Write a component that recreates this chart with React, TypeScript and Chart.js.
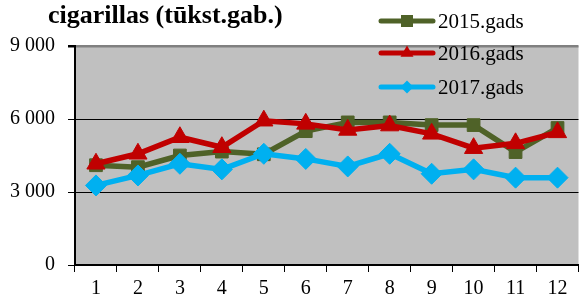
import React, { useEffect, useRef } from "react";
import { Chart, registerables } from "chart.js";

Chart.register(...registerables);

const categories = ["1", "2", "3", "4", "5", "6", "7", "8", "9", "10", "11", "12"];
const series2015 = [4100, 4020, 4500, 4660, 4550, 5500, 5860, 5860, 5750, 5750, 4640, 5630];
const series2016 = [4160, 4570, 5250, 4840, 5930, 5800, 5550, 5730, 5390, 4800, 5000, 5450];
const series2017 = [3270, 3680, 4160, 3930, 4570, 4360, 4050, 4570, 3750, 3930, 3590, 3590];
const yTickValues = [0, 3000, 6000, 9000];
const seriesNames = ["2015.gads", "2016.gads", "2017.gads"];
const titleText = "cigarillas (tūkst.gab.)";

const FONT = "'Liberation Serif', 'Times New Roman', serif";
const GREEN = "#4F6228";
const RED = "#C00000";
const BLUE = "#00B0F0";

function fmt(v: number) {
  return String(v).replace(/\B(?=(\d{3})+(?!\d))/g, " ");
}

function drawPoint(ctx: CanvasRenderingContext2D, style: string, r: number, x: number, y: number) {
  ctx.beginPath();
  if (style === "rect") {
    const s = Math.SQRT1_2 * r;
    ctx.rect(x - s, y - s, 2 * s, 2 * s);
  } else if (style === "triangle") {
    ctx.moveTo(x, y - r);
    ctx.lineTo(x + r * Math.sin((Math.PI * 2) / 3), y - r * Math.cos((Math.PI * 2) / 3));
    ctx.lineTo(x + r * Math.sin((Math.PI * 4) / 3), y - r * Math.cos((Math.PI * 4) / 3));
    ctx.closePath();
  } else {
    ctx.moveTo(x, y - r);
    ctx.lineTo(x + r, y);
    ctx.lineTo(x, y + r);
    ctx.lineTo(x - r, y);
    ctx.closePath();
  }
  ctx.fill();
}

export default function App() {
  const ref = useRef<HTMLCanvasElement | null>(null);
  useEffect(() => {
    document.body.style.margin = "0";
    const canvas = ref.current!;
    const bgPlugin = {
      id: "bg",
      beforeDraw(chart: any) {
        const { ctx, chartArea } = chart;
        ctx.save();
        ctx.fillStyle = "#ffffff";
        ctx.fillRect(0, 0, chart.width, chart.height);
        ctx.fillStyle = "#C0C0C0";
        ctx.fillRect(chartArea.left, chartArea.top, chartArea.right - chartArea.left, chartArea.bottom - chartArea.top);
        ctx.restore();
      },
    };
    const overlay = {
      id: "overlay",
      afterDraw(chart: any) {
        const ctx = chart.ctx;
        ctx.save();
        ctx.fillStyle = "#000";
        ctx.font = `bold 26px ${FONT}`;
        ctx.textBaseline = "alphabetic";
        ctx.textAlign = "left";
        ctx.fillText(titleText, 48, 23);
        const items = [
          { y: 21, color: GREEN, style: "rect", r: 8.5 },
          { y: 53, color: RED, style: "triangle", r: 7.5 },
          { y: 87, color: BLUE, style: "rectRot", r: 6.5 },
        ];
        items.forEach((it, i) => {
          ctx.strokeStyle = it.color;
          ctx.lineWidth = 5;
          ctx.lineCap = "round";
          ctx.beginPath();
          ctx.moveTo(381, it.y);
          ctx.lineTo(433, it.y);
          ctx.stroke();
          ctx.fillStyle = it.color;
          drawPoint(ctx, it.style, it.r, 407, it.y);
          ctx.fillStyle = "#000";
          ctx.font = `21px ${FONT}`;
          ctx.textBaseline = "middle";
          ctx.fillText(seriesNames[i], 438, it.y + 1);
        });
        ctx.restore();
      },
    };
    const mk = (label: string, data: number[], color: string, style: string, r: number, order: number) => ({
      label,
      data,
      borderColor: color,
      backgroundColor: color,
      borderWidth: 5.5,
      pointStyle: style,
      pointRadius: r,
      pointBorderWidth: 1,
      pointBackgroundColor: color,
      pointBorderColor: color,
      tension: 0,
      order,
    });
    const chart = new Chart(canvas, {
      type: "line",
      data: {
        labels: categories,
        datasets: [
          mk(seriesNames[0], series2015, GREEN, "rect", 9, 2),
          mk(seriesNames[1], series2016, RED, "triangle", 10.5, 1),
          mk(seriesNames[2], series2017, BLUE, "rectRot", 10.5, 0),
        ] as any,
      },
      options: {
        animation: false,
        responsive: false,
        maintainAspectRatio: false,
        layout: { padding: { top: 46, right: 5, left: 0, bottom: 0 } },
        plugins: { legend: { display: false }, title: { display: false }, tooltip: { enabled: false } },
        scales: {
          x: {
            type: "category",
            offset: true,
            afterFit(scale: any) {
              scale.height = 32;
              scale.paddingLeft = 0;
              scale.paddingRight = 0;
            },
            grid: {
              offset: true,
              drawOnChartArea: false,
              drawTicks: true,
              tickLength: 7,
              color: "#000",
            },
            border: { color: "#000", width: 2 },
            ticks: {
              color: "#000",
              font: { family: FONT, size: 20 },
              padding: 5,
              maxRotation: 0,
              autoSkip: false,
            },
          },
          y: {
            min: 0,
            max: 9000,
            afterFit(scale: any) {
              scale.width = 75;
            },
            afterBuildTicks(scale: any) {
              scale.ticks = yTickValues.map((v) => ({ value: v }));
            },
            grid: {
              color: (c: any) => (c.tick && c.tick.value === 9000 ? "#808080" : "#000"),
              lineWidth: (c: any) => (c.tick && c.tick.value === 9000 ? 2.5 : 1),
              tickColor: "#000",
              tickLength: 7,
            },
            border: { color: "#000", width: 2 },
            ticks: {
              color: "#000",
              font: { family: FONT, size: 20 },
              padding: 13,
              callback: (v: any) => fmt(Number(v)),
            },
          },
        },
      } as any,
      plugins: [bgPlugin, overlay],
    });
    return () => chart.destroy();
  }, []);
  return (
    <div style={{ width: 583, height: 297, overflow: "hidden", position: "relative" }}>
      <div style={{ width: 590, height: 297 }}>
        <canvas ref={ref} width={590} height={297} style={{ width: 590, height: 297, display: "block" }} />
      </div>
    </div>
  );
}
